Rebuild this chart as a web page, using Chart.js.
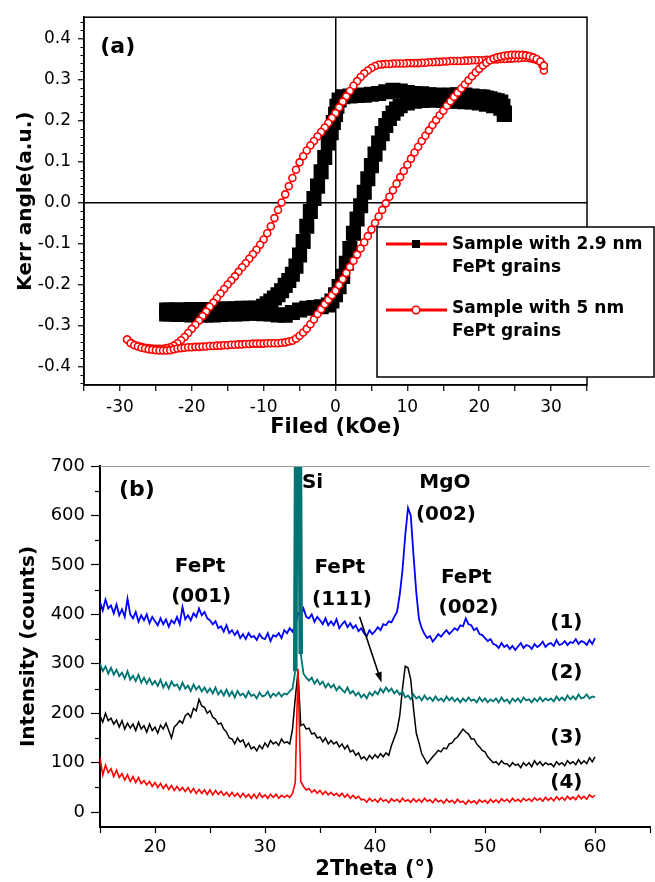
<!DOCTYPE html>
<html>
<head>
<meta charset="utf-8">
<script src="https://cdn.jsdelivr.net/npm/chart.js@4/dist/chart.umd.min.js"></script>
<style>
  body { margin: 0; background: #fff; }
  .wrap { position: relative; width: 655px; height: 882px; }
  canvas { position: absolute; left: 0; }
  #kerr { top: 0; }
  #xrd { top: 440px; }
</style>
</head>
<body>
<div class="wrap">
  <canvas id="kerr" width="655" height="440"></canvas>
  <canvas id="xrd" width="655" height="442"></canvas>
</div>
<script>
// ---- (a) Kerr loops: [field kOe, Kerr angle] ----
// 5 nm grains, field going down (upper branch)
const red5nmDown = [
  [29, 0.322], [28.8, 0.335], [28.5, 0.343], [28, 0.348], [27.5, 0.350], [27, 0.352], [26.5, 0.353], [26, 0.353],
  [25.5, 0.352], [25, 0.352], [24.5, 0.351], [24, 0.351], [23.5, 0.350], [23, 0.350], [22.5, 0.349], [22, 0.349],
  [21.5, 0.348], [21, 0.348], [20.5, 0.347], [20, 0.347], [19.5, 0.347], [19, 0.347], [18.5, 0.346], [18, 0.346],
  [17.5, 0.345], [17, 0.345], [16.5, 0.345], [16, 0.345], [15.5, 0.344], [15, 0.344], [14.5, 0.343], [14, 0.343],
  [13.5, 0.342], [13, 0.342], [12.5, 0.341], [12, 0.341], [11.5, 0.340], [11, 0.340], [10.5, 0.340], [10, 0.340],
  [9.5, 0.339], [9, 0.339], [8.5, 0.339], [8, 0.339], [7.5, 0.338], [7, 0.338], [6.5, 0.337], [6, 0.336],
  [5.5, 0.333], [5, 0.328], [4.5, 0.322], [4, 0.315], [3.5, 0.306], [3, 0.296], [2.5, 0.285], [2, 0.272],
  [1.5, 0.259], [1, 0.246], [0.5, 0.232], [0, 0.218], [-0.5, 0.206], [-1, 0.194], [-1.5, 0.183], [-2, 0.172],
  [-2.5, 0.161], [-3, 0.150], [-3.5, 0.139], [-4, 0.127], [-4.5, 0.113], [-5, 0.098], [-5.5, 0.080], [-6, 0.060],
  [-6.5, 0.040], [-7, 0.020], [-7.5, 0.000], [-8, -0.018], [-8.5, -0.038], [-9, -0.058], [-9.5, -0.075], [-10, -0.090],
  [-10.5, -0.103], [-11, -0.115], [-11.5, -0.126], [-12, -0.137], [-12.5, -0.148], [-13, -0.158], [-13.5, -0.169], [-14, -0.180],
  [-14.5, -0.190], [-15, -0.200], [-15.5, -0.211], [-16, -0.222], [-16.5, -0.233], [-17, -0.244], [-17.5, -0.254], [-18, -0.266],
  [-18.5, -0.277], [-19, -0.288], [-19.5, -0.298], [-20, -0.308], [-20.5, -0.318], [-21, -0.328], [-21.5, -0.336], [-22, -0.343],
  [-22.5, -0.349], [-23, -0.353], [-23.5, -0.355], [-24, -0.357], [-24.5, -0.357], [-25, -0.357], [-25.5, -0.356], [-26, -0.355],
  [-26.5, -0.354], [-27, -0.352], [-27.5, -0.350], [-28, -0.347], [-28.5, -0.342], [-29, -0.334]
];
// 5 nm grains, field going up (lower branch)
const red5nmUp = [
  [-29, -0.334], [-28.5, -0.343], [-28, -0.348], [-27.5, -0.351], [-27, -0.354], [-26.5, -0.356], [-26, -0.358], [-25.5, -0.359],
  [-25, -0.360], [-24.5, -0.361], [-24, -0.361], [-23.5, -0.361], [-23, -0.360], [-22.5, -0.358], [-22, -0.356], [-21.5, -0.355],
  [-21, -0.354], [-20.5, -0.353], [-20, -0.353], [-19.5, -0.352], [-19, -0.352], [-18.5, -0.351], [-18, -0.351], [-17.5, -0.350],
  [-17, -0.350], [-16.5, -0.349], [-16, -0.349], [-15.5, -0.348], [-15, -0.348], [-14.5, -0.347], [-14, -0.347], [-13.5, -0.346],
  [-13, -0.346], [-12.5, -0.345], [-12, -0.345], [-11.5, -0.344], [-11, -0.344], [-10.5, -0.344], [-10, -0.344], [-9.5, -0.343],
  [-9, -0.343], [-8.5, -0.343], [-8, -0.343], [-7.5, -0.342], [-7, -0.341], [-6.5, -0.339], [-6, -0.337], [-5.5, -0.332],
  [-5, -0.325], [-4.5, -0.317], [-4, -0.308], [-3.5, -0.297], [-3, -0.285], [-2.5, -0.272], [-2, -0.260], [-1.5, -0.248],
  [-1, -0.237], [-0.5, -0.226], [0, -0.215], [0.5, -0.201], [1, -0.187], [1.5, -0.172], [2, -0.157], [2.5, -0.142],
  [3, -0.127], [3.5, -0.112], [4, -0.097], [4.5, -0.082], [5, -0.066], [5.5, -0.050], [6, -0.034], [6.5, -0.018],
  [7, -0.002], [7.5, 0.014], [8, 0.030], [8.5, 0.046], [9, 0.062], [9.5, 0.077], [10, 0.092], [10.5, 0.107],
  [11, 0.122], [11.5, 0.136], [12, 0.150], [12.5, 0.163], [13, 0.176], [13.5, 0.189], [14, 0.201], [14.5, 0.213],
  [15, 0.224], [15.5, 0.236], [16, 0.247], [16.5, 0.258], [17, 0.268], [17.5, 0.278], [18, 0.288], [18.5, 0.298],
  [19, 0.308], [19.5, 0.317], [20, 0.326], [20.5, 0.334], [21, 0.341], [21.5, 0.347], [22, 0.351], [22.5, 0.354],
  [23, 0.356], [23.5, 0.358], [24, 0.359], [24.5, 0.360], [25, 0.360], [25.5, 0.360], [26, 0.360], [26.5, 0.359],
  [27, 0.357], [27.5, 0.354], [28, 0.350], [28.5, 0.344], [29, 0.334]
];
// 2.9 nm grains
const black29nmDown = [
  [23.5, 0.218], [23.3, 0.235], [23, 0.245], [22.5, 0.248], [22, 0.250], [21.5, 0.253], [21, 0.255], [20.5, 0.257],
  [20, 0.258], [19, 0.260], [18, 0.262], [17, 0.263], [16, 0.262], [15, 0.261], [14, 0.262], [13, 0.263],
  [12, 0.265], [11, 0.266], [10, 0.268], [9, 0.272], [8, 0.274], [7, 0.270], [6, 0.266], [5, 0.264],
  [4, 0.262], [3, 0.261], [2, 0.260], [1, 0.258], [0.5, 0.250], [0.2, 0.235], [0, 0.215], [-0.3, 0.195],
  [-0.6, 0.170], [-1, 0.145], [-1.5, 0.110], [-2, 0.075], [-2.5, 0.040], [-3, 0.010], [-3.5, -0.022], [-4, -0.058],
  [-4.5, -0.095], [-5, -0.128], [-5.5, -0.155], [-6, -0.175], [-6.5, -0.190], [-7, -0.202], [-7.5, -0.215], [-8, -0.225],
  [-8.5, -0.233], [-9, -0.240], [-9.5, -0.247], [-10, -0.253], [-11, -0.257], [-12, -0.258], [-13, -0.258], [-14, -0.259],
  [-15, -0.260], [-16, -0.260], [-17, -0.261], [-18, -0.261], [-19, -0.261], [-20, -0.261], [-21, -0.262], [-22, -0.262],
  [-23, -0.262], [-23.5, -0.262]
];
const black29nmUp = [
  [-23.5, -0.272], [-23, -0.272], [-22, -0.273], [-21, -0.273], [-20, -0.274], [-19, -0.274], [-18, -0.274], [-17, -0.274],
  [-16, -0.273], [-15, -0.272], [-14, -0.272], [-13, -0.271], [-12, -0.270], [-11, -0.270], [-10, -0.271], [-9, -0.272],
  [-8, -0.274], [-7, -0.275], [-6, -0.268], [-5, -0.262], [-4, -0.258], [-3, -0.256], [-2, -0.254], [-1, -0.250],
  [-0.5, -0.240], [0, -0.225], [0.5, -0.205], [1, -0.180], [1.5, -0.148], [2, -0.112], [2.5, -0.075], [3, -0.040],
  [3.5, -0.008], [4, 0.025], [4.5, 0.058], [5, 0.090], [5.5, 0.118], [6, 0.145], [6.5, 0.168], [7, 0.188],
  [7.5, 0.205], [8, 0.218], [8.5, 0.228], [9, 0.236], [10, 0.243], [11, 0.247], [12, 0.249], [13, 0.250],
  [14, 0.250], [15, 0.249], [16, 0.248], [17, 0.247], [18, 0.246], [19, 0.245], [20, 0.243], [21, 0.240],
  [22, 0.236], [23, 0.230], [23.5, 0.215]
];
const kerrXTicks = [-30, -20, -10, 0, 10, 20, 30];

// ---- (b) XRD patterns ----
const twoTheta = [
  15,15.25,15.5,15.75,16,16.25,16.5,16.75,17,17.25,17.5,17.75,18,18.25,18.5,18.75,19,19.25,19.5,19.75,
  20,20.25,20.5,20.75,21,21.25,21.5,21.75,22,22.25,22.5,22.75,23,23.25,23.5,23.75,24,24.25,24.5,24.75,
  25,25.25,25.5,25.75,26,26.25,26.5,26.75,27,27.25,27.5,27.75,28,28.25,28.5,28.75,29,29.25,29.5,29.75,
  30,30.25,30.5,30.75,31,31.25,31.5,31.75,32,32.25,32.5,32.75,33,33.25,33.5,33.75,34,34.25,34.5,34.75,
  35,35.25,35.5,35.75,36,36.25,36.5,36.75,37,37.25,37.5,37.75,38,38.25,38.5,38.75,39,39.25,39.5,39.75,
  40,40.25,40.5,40.75,41,41.25,41.5,41.75,42,42.25,42.5,42.75,43,43.25,43.5,43.75,44,44.25,44.5,44.75,
  45,45.25,45.5,45.75,46,46.25,46.5,46.75,47,47.25,47.5,47.75,48,48.25,48.5,48.75,49,49.25,49.5,49.75,
  50,50.25,50.5,50.75,51,51.25,51.5,51.75,52,52.25,52.5,52.75,53,53.25,53.5,53.75,54,54.25,54.5,54.75,
  55,55.25,55.5,55.75,56,56.25,56.5,56.75,57,57.25,57.5,57.75,58,58.25,58.5,58.75,59,59.25,59.5,59.75,
  60
];
const pattern1 = [
  425,408,430,412, 418,402,420,398, 410,395,432,400, 392,405,385,398, 388,400,382,395,
  386,378,392,380, 390,375,388,382, 395,380,415,390, 398,388,402,395, 412,398,405,392,
  388,380,386,372, 376,365,378,362, 368,358,366,352, 360,350,362,354, 356,348,360,352,
  350,362,346,358, 355,362,352,368, 362,372,365,378, 402,398,412,395, 392,400,385,395,
  388,380,392,378, 386,378,390,372, 380,386,374,382, 372,378,366,372, 362,356,368,360,
  366,374,368,380, 378,386,384,395, 405,440,490,560, 615,600,520,445, 390,372,360,352,
  356,345,352,360, 355,362,368,360, 366,372,368,378, 376,392,380,378, 368,372,360,358,
  352,346,350,340, 338,332,342,334, 338,330,336,328, 335,342,332,338, 336,330,340,334,
  338,345,334,340, 342,336,348,338, 340,346,338,344, 342,350,340,346, 344,338,348,340,
  352
];
const pattern2 = [
  300,285,295,280, 292,278,288,275, 282,270,285,268, 276,265,278,262, 272,260,270,258,
  265,255,268,252, 262,250,264,255, 258,248,262,250, 256,245,258,248, 255,244,252,242,
  250,240,252,238, 246,236,248,235, 244,232,245,236, 240,232,244,235, 238,230,242,234,
  236,244,232,240, 235,242,234,240, 238,245,250,285, 1600,320,280,272, 266,272,260,268,
  258,264,252,260, 252,258,246,254, 248,242,252,240, 245,236,242,232, 238,230,242,236,
  244,238,250,242, 252,244,250,240, 246,238,244,232, 236,228,238,230, 234,226,236,228,
  232,225,234,226, 230,224,234,226, 232,224,230,222, 230,224,232,225, 228,222,232,224,
  230,222,228,224, 230,222,232,224, 228,220,230,224, 230,222,232,226, 228,222,230,224,
  232,224,230,226, 230,224,234,226, 232,226,236,228, 234,228,238,230, 232,238,230,234,
  232
];
const pattern3 = [
  195,182,200,185, 190,178,186,172, 185,168,180,170, 178,165,182,168, 175,162,178,165,
  172,160,176,168, 180,165,150,172, 178,185,180,195, 200,192,210,205, 228,215,212,200,
  205,192,188,178, 180,168,162,150, 148,138,150,142, 146,132,140,128, 132,124,135,128,
  140,132,145,138, 142,135,148,140, 142,138,168,230, 285,175,178,168, 170,158,160,150,
  152,142,150,138, 145,138,142,132, 138,128,135,122, 125,115,120,108, 112,105,115,108,
  116,110,118,112, 120,115,135,150, 165,195,250,295, 292,268,210,160, 140,118,108,98,
  105,112,118,125, 122,130,128,138, 140,148,152,160, 168,162,158,148, 148,138,132,125,
  122,112,106,100, 102,96,104,98, 98,92,100,95, 97,90,100,94, 100,92,104,96,
  102,94,100,96, 98,92,102,96, 100,94,104,98, 102,96,106,98, 104,98,110,102,
  112
];
const pattern4 = [
  110,75,95,80, 88,72,85,70, 78,65,76,62, 72,60,70,58, 64,55,62,52,
  60,50,58,48, 56,46,54,44, 52,44,50,42, 50,40,48,38, 46,38,45,36,
  45,35,44,36, 42,34,40,32, 40,32,38,30, 38,30,36,28, 36,28,38,30,
  35,28,36,30, 36,28,34,30, 34,30,38,60, 290,62,52,45, 48,40,45,38,
  44,36,42,35, 40,34,38,32, 38,30,36,28, 34,28,32,25, 26,20,28,22,
  26,20,28,22, 25,19,27,22, 26,20,28,22, 25,20,27,21, 26,20,28,22,
  25,19,27,21, 24,18,26,20, 24,18,26,20, 22,16,24,19, 23,17,25,20,
  24,18,26,20, 25,19,27,22, 26,20,28,22, 26,21,28,23, 27,22,29,24,
  28,22,30,24, 29,23,31,25, 30,24,32,26, 31,25,34,27, 32,26,35,30,
  34
];
const patternNames = ['(1)', '(2)', '(3)', '(4)'];

Chart.defaults.font.family = 'DejaVu Sans';
Chart.defaults.color = '#000';
Chart.defaults.animation = false;

const toPts = (arr) => arr.map(p => ({ x: p[0], y: p[1] }));
const xy = (ys) => ys.map((v, i) => ({ x: twoTheta[i], y: v }));

function txt(ctx, s, px, py, align) {
  ctx.textAlign = align || 'center';
  ctx.textBaseline = 'middle';
  ctx.fillText(s, px, py);
}

// frame, minor ticks, legend box and (a) label
const kerrExtras = {
  id: 'kerrExtras',
  afterDraw(chart) {
    const { ctx, chartArea: a, scales: { x, y } } = chart;
    ctx.save();
    ctx.strokeStyle = '#000';
    ctx.lineWidth = 1.5;
    ctx.strokeRect(a.left, a.top, a.right - a.left, a.bottom - a.top);

    ctx.lineWidth = 1;
    for (let i = -22; i <= 22; i++) {
      if (i % 5 === 0) continue;
      const py = Math.round(y.getPixelForValue(i * 0.02)) + 0.5;
      ctx.beginPath(); ctx.moveTo(a.left - 3.5, py); ctx.lineTo(a.left, py); ctx.stroke();
    }

    ctx.fillStyle = '#000';
    ctx.font = 'bold 22px "DejaVu Sans"';
    txt(ctx, '(a)', x.getPixelForValue(-30.3), y.getPixelForValue(0.378));

    // legend box
    ctx.fillStyle = '#fff';
    ctx.fillRect(377, 227, 277, 150);
    ctx.lineWidth = 1.5;
    ctx.strokeRect(377, 227, 277, 150);

    ctx.strokeStyle = '#ff0000';
    ctx.lineWidth = 3;
    ctx.beginPath(); ctx.moveTo(386, 244); ctx.lineTo(447, 244); ctx.stroke();
    ctx.beginPath(); ctx.moveTo(386, 310); ctx.lineTo(447, 310); ctx.stroke();
    ctx.fillStyle = '#000';
    ctx.fillRect(412, 240, 8, 8);
    ctx.fillStyle = '#fff';
    ctx.lineWidth = 1.6;
    ctx.beginPath(); ctx.arc(416, 310, 3.8, 0, Math.PI * 2); ctx.fill(); ctx.stroke();

    ctx.fillStyle = '#000';
    ctx.font = 'bold 17px "DejaVu Sans"';
    txt(ctx, 'Sample with 2.9 nm', 452, 245, 'left');
    txt(ctx, 'FePt grains', 452, 268, 'left');
    txt(ctx, 'Sample with 5 nm', 452, 309, 'left');
    txt(ctx, 'FePt grains', 452, 332, 'left');
    ctx.restore();
  }
};

new Chart(document.getElementById('kerr'), {
  type: 'scatter',
  data: {
    datasets: [
      {
        label: 'Sample with 5 nm FePt grains',
        data: toPts(red5nmDown.concat(red5nmUp)),
        showLine: true,
        borderColor: '#ff0000',
        borderWidth: 1.5,
        pointRadius: 3.5,
        pointBorderWidth: 1.6,
        pointBorderColor: '#ff0000',
        pointBackgroundColor: '#ffffff',
        order: 0
      },
      {
        label: 'Sample with 2.9 nm FePt grains',
        data: toPts(black29nmDown.concat(black29nmUp)),
        showLine: true,
        borderColor: '#000',
        borderWidth: 8,
        pointStyle: 'rect',
        pointRadius: 5,
        pointBorderColor: '#000',
        pointBackgroundColor: '#000',
        order: 1
      }
    ]
  },
  options: {
    responsive: false,
    layout: { padding: { left: 0, top: 12, right: 68, bottom: 0 } },
    plugins: { legend: { display: false }, tooltip: { enabled: false } },
    scales: {
      x: {
        type: 'linear', min: -35, max: 35,
        afterFit: (s) => { s.height = 55; },
        border: { color: '#000', width: 1.5 },
        grid: {
          color: (c) => c.tick && c.tick.value === 0 ? '#000' : 'rgba(0,0,0,0)',
          lineWidth: 1.5, tickColor: '#000', tickLength: 6, tickWidth: 1.2
        },
        ticks: {
          stepSize: 5, includeBounds: false, padding: 6, maxRotation: 0, autoSkip: false,
          font: { size: 17 },
          callback: (v) => kerrXTicks.includes(v) ? String(v) : ''
        },
        title: { display: true, text: 'Filed (kOe)', font: { size: 21, weight: 'bold' }, padding: { top: 0, bottom: 0 } }
      },
      y: {
        // slightly uneven bounds so the 0.1 steps start at whole tenths
        type: 'linear', min: -0.445, max: 0.452,
        afterFit: (s) => { s.width = 84; },
        border: { color: '#000', width: 1.5 },
        grid: {
          color: (c) => c.tick && Math.abs(c.tick.value) < 1e-9 ? '#000' : 'rgba(0,0,0,0)',
          lineWidth: 1.5, tickColor: '#000', tickLength: 6, tickWidth: 1.2
        },
        ticks: {
          stepSize: 0.1, includeBounds: false, padding: 7, autoSkip: false,
          font: { size: 17 },
          callback: (v) => (Math.abs(v) < 1e-9 ? 0 : v).toFixed(1)
        },
        title: { display: true, text: 'Kerr angle(a.u.)', font: { size: 20, weight: 'bold' }, padding: { top: 14, bottom: 0 } }
      }
    }
  },
  plugins: [kerrExtras]
});

// peak labels, arrow, minor ticks for (b)
const xrdExtras = {
  id: 'xrdExtras',
  afterDraw(chart) {
    const { ctx, chartArea: a, scales: { x, y } } = chart;
    const X = (v) => x.getPixelForValue(v);
    const Y = (v) => y.getPixelForValue(v);
    ctx.save();
    ctx.strokeStyle = '#9a9a9a';
    ctx.lineWidth = 1.2;
    ctx.beginPath(); ctx.moveTo(a.left, a.top + 0.5); ctx.lineTo(a.right, a.top + 0.5); ctx.stroke();

    ctx.strokeStyle = '#000';
    ctx.lineWidth = 1.2;
    for (let v = 50; v < 700; v += 100) {
      const py = Math.round(Y(v)) + 0.5;
      ctx.beginPath(); ctx.moveTo(a.left - 5, py); ctx.lineTo(a.left, py); ctx.stroke();
    }

    ctx.fillStyle = '#000';
    ctx.font = 'bold 22px "DejaVu Sans"';
    txt(ctx, '(b)', X(18.36), Y(651));
    ctx.font = 'bold 20px "DejaVu Sans"';
    txt(ctx, 'Si', X(33.36), Y(667), 'left');
    txt(ctx, 'MgO', X(46.36), Y(667));
    txt(ctx, '(002)', X(46.45), Y(601));
    txt(ctx, 'FePt', X(24.1), Y(496));
    txt(ctx, '(001)', X(24.2), Y(436));
    txt(ctx, 'FePt', X(36.8), Y(494));
    txt(ctx, '(111)', X(37.0), Y(429));
    txt(ctx, 'FePt', X(48.3), Y(474));
    txt(ctx, '(002)', X(48.5), Y(413));
    const labelY = [383, 282, 151, 60];
    patternNames.forEach((n, i) => txt(ctx, n, X(57.4), Y(labelY[i])));

    // arrow to the FePt(111) bump on pattern (2)
    const x0 = X(38.6), y0 = Y(395), x1 = X(40.6), y1 = Y(262);
    const ang = Math.atan2(y1 - y0, x1 - x0);
    ctx.lineWidth = 1.6;
    ctx.beginPath(); ctx.moveTo(x0, y0); ctx.lineTo(x1 - 6 * Math.cos(ang), y1 - 6 * Math.sin(ang)); ctx.stroke();
    ctx.beginPath();
    ctx.moveTo(x1, y1);
    ctx.lineTo(x1 - 11 * Math.cos(ang - 0.32), y1 - 11 * Math.sin(ang - 0.32));
    ctx.lineTo(x1 - 11 * Math.cos(ang + 0.32), y1 - 11 * Math.sin(ang + 0.32));
    ctx.closePath(); ctx.fill();
    ctx.restore();
  }
};

const lineSet = (name, ys, color, w, order) => ({
  label: name, data: xy(ys), borderColor: color, borderWidth: w,
  pointRadius: 0, tension: 0, fill: false, order: order
});

const siLine = lineSet('(2)', pattern2, '#007373', 1.8, 0);
// the Si spike of pattern (2) looks like a solid thick bar
siLine.segment = {
  borderWidth: (c) => (c.p0.parsed.x >= 32.7 && c.p1.parsed.x <= 33.3) ? 4.6 : undefined
};

new Chart(document.getElementById('xrd'), {
  type: 'line',
  data: {
    datasets: [
      lineSet('(1)', pattern1, '#0000ff', 1.8, 3),
      lineSet('(3)', pattern3, '#000000', 1.5, 2),
      lineSet('(4)', pattern4, '#ff0000', 1.6, 1),
      siLine
    ]
  },
  options: {
    responsive: false,
    layout: { padding: { left: 0, top: 26, right: 5, bottom: 0 } },
    plugins: { legend: { display: false }, tooltip: { enabled: false } },
    scales: {
      x: {
        type: 'linear', min: 15, max: 65,
        afterFit: (s) => { s.height = 55; },
        border: { color: '#000', width: 2 },
        grid: { drawOnChartArea: false, tickColor: '#000', tickLength: 6, tickWidth: 1.2 },
        ticks: {
          stepSize: 5, padding: 4, maxRotation: 0, autoSkip: false,
          font: { size: 18 },
          callback: (v) => v % 10 === 0 ? String(v) : ''
        },
        title: { display: true, text: '2Theta (°)', font: { size: 21, weight: 'bold' }, padding: { top: 0, bottom: 0 } }
      },
      y: {
        type: 'linear', min: -30, max: 700,
        afterFit: (s) => { s.width = 100; },
        border: { color: '#000', width: 2 },
        grid: { drawOnChartArea: false, tickColor: '#000', tickLength: 9, tickWidth: 1.2 },
        ticks: {
          stepSize: 100, includeBounds: false, padding: 6, autoSkip: false,
          font: { size: 18 }
        },
        title: { display: true, text: 'Intensity (counts)', font: { size: 20, weight: 'bold' }, padding: { top: 17, bottom: 0 } }
      }
    }
  },
  plugins: [xrdExtras]
});
</script>
</body>
</html>
